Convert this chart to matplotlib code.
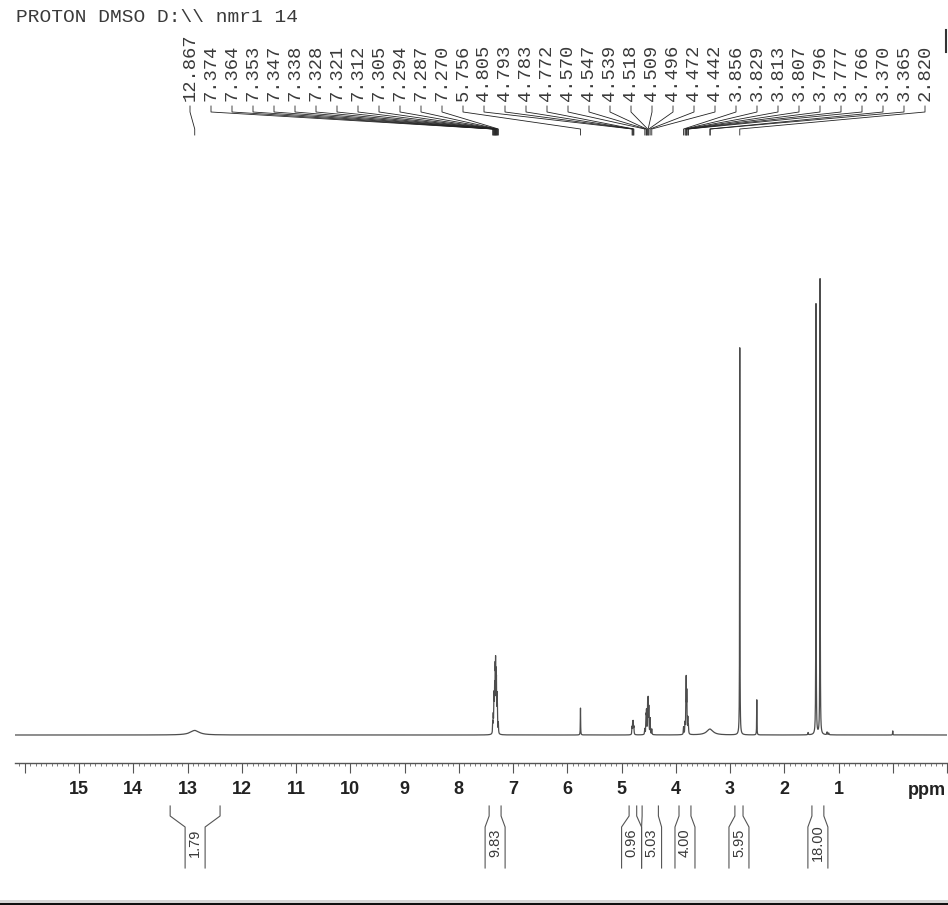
"""
1H NMR spectrum (PROTON, DMSO-d6) redrawn in the style of a TopSpin plot:
spectrum, ppm axis, peak-pick labels on top, integrals below.
"""

import numpy as np
import matplotlib.pyplot as plt
from matplotlib.ticker import MultipleLocator, FuncFormatter

# --- PICTURE GEOMETRY (pixels of the reference screenshot) ---
W, H = 948, 905
AX_LEFT, AX_RIGHT = 15, 947      # ends of the ppm axis
AX_BOTTOM, AX_TOP = 763, 263     # axis line / top of spectrum area
XMAX, XMIN = 16.18, -1.0         # ppm range shown

TITLE = "PROTON DMSO D:\\\\ nmr1 14"

# peak-pick labels (ppm)
peak_labels = [12.867, 7.374, 7.364, 7.353, 7.347, 7.338, 7.328, 7.321,
               7.312, 7.305, 7.294, 7.287, 7.270, 5.756, 4.805, 4.793,
               4.783, 4.772, 4.570, 4.547, 4.539, 4.518, 4.509, 4.496,
               4.472, 4.442, 3.856, 3.829, 3.813, 3.807, 3.796, 3.777,
               3.766, 3.370, 3.365, 2.820]

# lines making up the spectrum: shift (ppm), height (% of tallest), half width (ppm)
line_ppm = [12.867,
            7.374, 7.364, 7.353, 7.347, 7.338, 7.328, 7.321, 7.312, 7.305,
            7.294, 7.287, 7.270,
            5.756,
            4.805, 4.793, 4.783, 4.772,
            4.570, 4.547, 4.539, 4.518, 4.509, 4.496, 4.472, 4.442,
            3.856, 3.829, 3.813, 3.807, 3.796, 3.777, 3.766,
            3.370, 2.820, 2.506, 1.560, 1.415, 1.340, 1.210, 1.180, 0.000]
line_height = [1.0,
               2.3, 3.5, 5.2, 6.3, 8.6, 11.5, 12.6, 10.3, 9.2,
               6.9, 4.6, 2.3,
               5.9,
               1.6, 2.6, 2.6, 1.6,
               1.2, 3.6, 4.6, 6.2, 6.8, 5.6, 3.5, 1.2,
               1.6, 2.2, 5.5, 10.2, 8.4, 3.3, 1.6,
               1.3, 84.9, 7.7, 0.5, 94.5, 100.0, 0.6, 0.4, 0.9]
line_width = [0.10,
              0.0035, 0.0035, 0.0035, 0.0035, 0.0035, 0.0035, 0.0035, 0.0035,
              0.0035, 0.0035, 0.0035, 0.0035,
              0.003,
              0.004, 0.004, 0.004, 0.004,
              0.004, 0.004, 0.004, 0.004, 0.004, 0.004, 0.004, 0.004,
              0.004, 0.004, 0.004, 0.004, 0.004, 0.004, 0.004,
              0.07, 0.003, 0.003, 0.005, 0.003, 0.003, 0.005, 0.005, 0.003]

# integrals: region (ppm) and value
int_from = [13.32, 7.44, 4.86, 4.62, 3.94, 2.91, 1.49]
int_to = [12.40, 7.22, 4.72, 4.32, 3.72, 2.76, 1.27]
int_value = ["1.79", "9.83", "0.96", "5.03", "4.00", "5.95", "18.00"]

INK = "#3a3a3a"
LINE = "#4d4d4d"


def ppm_to_px(p):
    return AX_LEFT + (XMAX - p) / (XMAX - XMIN) * (AX_RIGHT - AX_LEFT)


fig = plt.figure(figsize=(W / 100, H / 100), dpi=100)

# overlay in pixel coordinates for title, labels and integrals
ov = fig.add_axes([0, 0, 1, 1])
ov.set_xlim(0, W)
ov.set_ylim(H, 0)
ov.axis("off")

# spectrum axes
ax = fig.add_axes([AX_LEFT / W, 1 - AX_BOTTOM / H,
                   (AX_RIGHT - AX_LEFT) / W, (AX_BOTTOM - AX_TOP) / H])
ax.patch.set_alpha(0)

x = np.linspace(XMIN, XMAX, 40001)
y = np.zeros_like(x)
for p, h, g in zip(line_ppm, line_height, line_width):
    y += h / (1 + ((x - p) / g) ** 2)
ax.plot(x, y, color=LINE, lw=0.9)

ax.set_xlim(XMAX, XMIN)
ax.set_ylim(-6.14, 103.5)
for s in ["left", "right", "top"]:
    ax.spines[s].set_visible(False)
ax.spines["bottom"].set_color("#555555")
ax.spines["bottom"].set_linewidth(1.0)
ax.set_yticks([])
ax.xaxis.set_major_locator(MultipleLocator(1))
ax.xaxis.set_minor_locator(MultipleLocator(0.1))
ax.xaxis.set_major_formatter(FuncFormatter(
    lambda v, pos: "" if v < 0.5 or v > 15.5 else f"{v:.0f}"))
ax.tick_params(axis="x", which="major", length=7.2, width=0.8, color="#555555",
               pad=6, labelsize=13, labelcolor="#222222")
ax.tick_params(axis="x", which="minor", length=2.5, width=0.6, color="#666666")
for t in ax.get_xticklabels():
    t.set_fontweight("bold")
    t.set_family("Liberation Sans")

ov.text(946, 790, "ppm", ha="right", va="center", fontsize=13,
        fontweight="bold", family="Liberation Sans", color="#222222")

# title
ov.text(16, 17, TITLE, ha="left", va="center", fontsize=14,
        family="Liberation Mono", color=INK)

# peak-pick labels with leaders
label_x = np.linspace(190, 925, len(peak_labels))
for lx, p in zip(label_x, peak_labels):
    ov.text(lx, 101, f"{p:.3f}", rotation=90, ha="center", va="bottom",
            fontsize=13.5, family="Liberation Mono", color=INK)
    px = ppm_to_px(p)
    ov.plot([lx, lx, px, px], [106, 112, 129, 135], color="#222222", lw=0.6)

# integrals under the axis
half = 10
centers = [(ppm_to_px(a) + ppm_to_px(b)) / 2 for a, b in zip(int_from, int_to)]
for i in range(len(centers) - 1):
    gap = (centers[i + 1] - half) - (centers[i] + half)
    if gap < 0:
        centers[i] += gap / 2
        centers[i + 1] -= gap / 2
for a, b, c, v in zip(int_from, int_to, centers, int_value):
    x1, x2 = ppm_to_px(a), ppm_to_px(b)
    ov.plot([x1, x1, c - half, c - half], [806, 816, 827, 868], color="#555555", lw=0.8)
    ov.plot([x2, x2, c + half, c + half], [806, 816, 827, 868], color="#555555", lw=0.8)
    ov.text(c, 843, v, rotation=90, ha="center", va="center", fontsize=10.5,
            family="Liberation Sans", color=INK)

# right edge marker and screenshot strip at the bottom
ov.plot([946.5, 946.5], [30, 52], color="#333333", lw=1.5)
ov.add_patch(plt.Rectangle((0, 900), W, 5, color="#d6d6d6", lw=0))
ov.add_patch(plt.Rectangle((0, 903), W, 2, color="#111111", lw=0))

fig.savefig("out.png", dpi=100)
